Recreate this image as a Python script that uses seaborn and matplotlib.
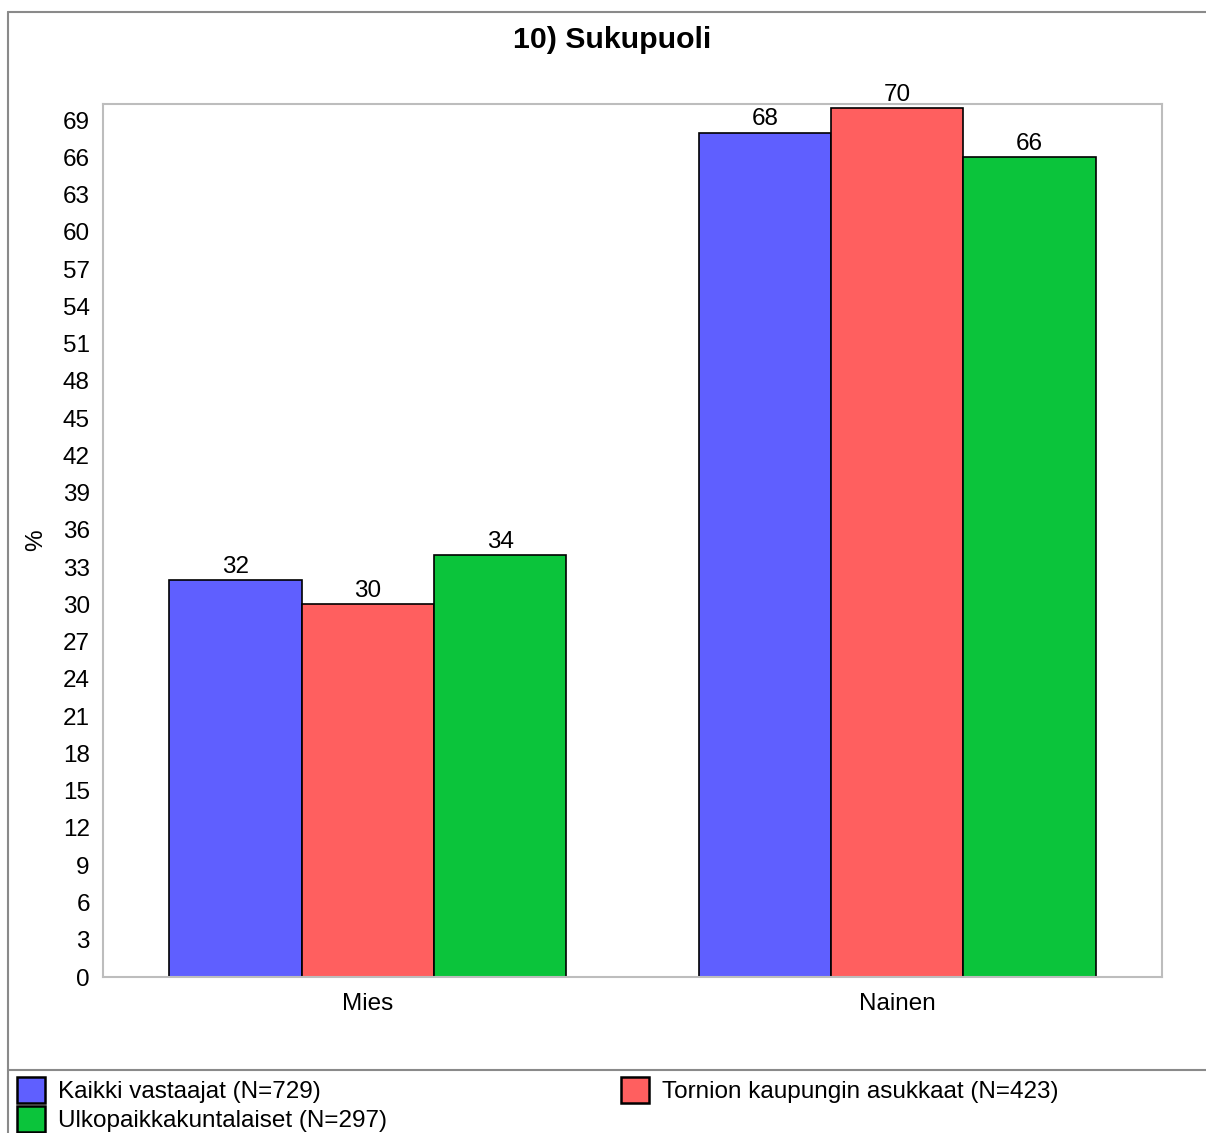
import matplotlib
matplotlib.use("Agg")
import matplotlib.pyplot as plt
from matplotlib.lines import Line2D
from matplotlib.patches import Patch
import seaborn as sns
import pandas as pd

# Survey answers: gender breakdown (%) per respondent group
categories = ["Mies", "Nainen"]
groups = ["Kaikki vastaajat (N=729)",
          "Tornion kaupungin asukkaat (N=423)",
          "Ulkopaikkakuntalaiset (N=297)"]
kaikki = [32, 68]
tornio = [30, 70]
ulko = [34, 66]
colors = ["#5f5fff", "#ff5f5f", "#0bc43b"]
yticks = list(range(0, 70, 3))

rows = []
for g, vals in zip(groups, [kaikki, tornio, ulko]):
    for c, v in zip(categories, vals):
        rows.append({"Sukupuoli": c, "Ryhmä": g, "Osuus": v})
df = pd.DataFrame(rows)

sns.set_style("white")
plt.rcParams["font.family"] = ["Liberation Sans", "DejaVu Sans"]
for key in ["text.color", "axes.labelcolor", "xtick.color", "ytick.color"]:
    plt.rcParams[key] = "black"

FS = 17.5
W, H = 1206, 1133
fig = plt.figure(figsize=(W / 100, H / 100), dpi=100)
ax = fig.add_axes([103 / W, 1 - 977 / H, (1162 - 103) / W, (977 - 104) / H])

sns.barplot(data=df, x="Sukupuoli", y="Osuus", hue="Ryhmä",
            order=categories, hue_order=groups, palette=colors,
            width=0.75, edgecolor="black", linewidth=1.2,
            saturation=1, ax=ax, legend=False)

for cont in ax.containers:
    ax.bar_label(cont, fmt="%d", fontsize=FS, padding=1.5)

ax.set_xlim(-0.5, 1.5)
ax.set_ylim(0, 70.3)
ax.set_yticks(yticks)
ax.tick_params(axis="both", length=0, labelsize=FS)
ax.tick_params(axis="y", pad=9.5)
ax.tick_params(axis="x", pad=11.5)
ax.set_xlabel("")
ax.set_ylabel("%", fontsize=FS, labelpad=11.5)
for s in ax.spines.values():
    s.set_color("#bdbdbd")
    s.set_linewidth(1.5)

fig.text(612 / W, 1 - 40 / H, "10) Sukupuoli", ha="center", va="center",
         fontsize=21.8, fontweight="bold")

# outer frame and legend separator
frame = dict(color="#8a8a8a", linewidth=1.5, transform=fig.transFigure)
fig.add_artist(Line2D([8 / W, 1], [1 - 12 / H, 1 - 12 / H], **frame))
fig.add_artist(Line2D([8 / W, 8 / W], [0, 1 - 12 / H], **frame))
fig.add_artist(Line2D([8 / W, 1], [1 - 1070 / H, 1 - 1070 / H], **frame))

handles = [Patch(facecolor=c, edgecolor="black", linewidth=1.8) for c in colors]
order = [0, 2, 1]
fig.legend([handles[i] for i in order], [groups[i] for i in order],
           ncol=2, loc="upper left", bbox_to_anchor=(17 / W, 1 - 1077 / H),
           frameon=False, fontsize=FS, handlelength=1.15, handleheight=1.3,
           handletextpad=0.55, labelspacing=0.1, columnspacing=9.6,
           borderpad=0, borderaxespad=0)

fig.savefig("out.png", dpi=100)
